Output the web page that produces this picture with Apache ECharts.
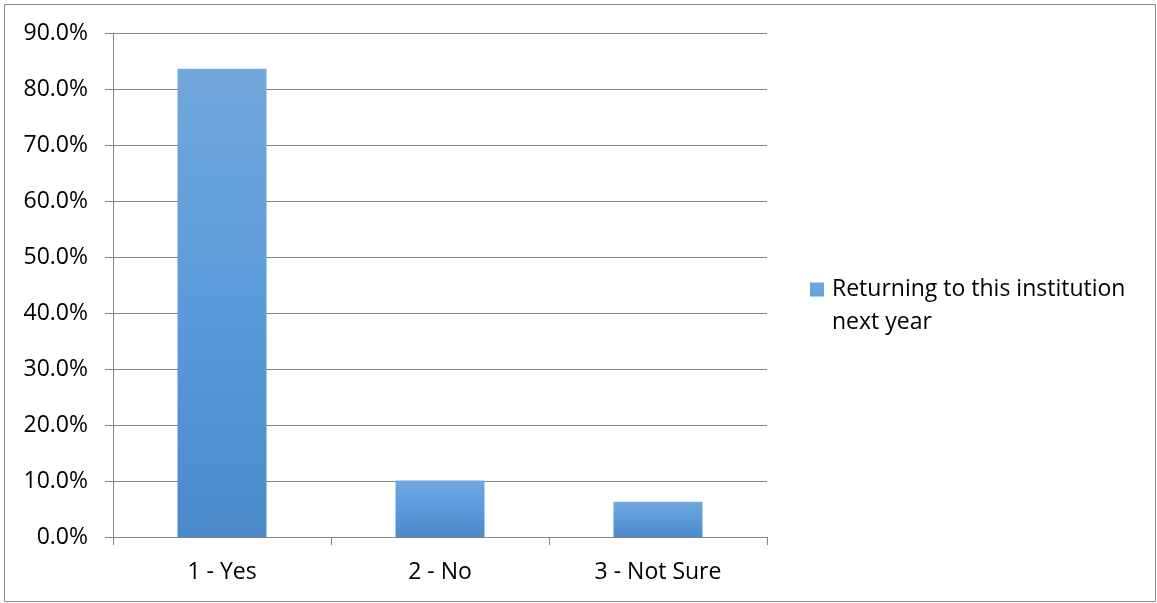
<!DOCTYPE html>
<html>
<head>
<meta charset="utf-8">
<script src="https://cdn.jsdelivr.net/npm/echarts@6/dist/echarts.min.js"></script>
<style>html,body{margin:0;padding:0;background:#fff}#c{width:1157px;height:603px}</style>
</head>
<body>
<div id="c"></div>
<script>
const categories = ['1 - Yes', '2 - No', '3 - Not Sure'];
const seriesName = 'Returning to this institution next year';
const values = [0.836, 0.101, 0.063];
const yTicks = [0, 0.1, 0.2, 0.3, 0.4, 0.5, 0.6, 0.7, 0.8, 0.9];

const chart = echarts.init(document.getElementById('c'));
const FONT = 'Open Sans';
const FS = 23;
const grad = new echarts.graphic.LinearGradient(0, 0, 0, 1, [
  {offset: 0, color: '#72A7DC'},
  {offset: 0.5, color: '#5B9BDC'},
  {offset: 1, color: '#4A89CA'}
]);
chart.setOption({
  animation: false,
  graphic: [{
    type: 'rect', shape: {x: 4.5, y: 4.5, width: 1151, height: 597},
    style: {fill: 'none', stroke: '#8c8c8c', lineWidth: 1}, z: -1
  }],
  grid: {left: 113, right: 390, top: 33, bottom: 66},
  legend: {
    left: 810, top: 273, padding: 0,
    itemWidth: 14, itemHeight: 47, itemGap: 5,
    data: [{name: seriesName, icon: 'path://M0,0L14,0L14,14L0,14Z M0,47L0,47'}],
    formatter: () => 'Returning to this institution\nnext year',
    textStyle: {fontFamily: FONT, fontSize: FS, color: '#000', lineHeight: 33, padding: [0, 0, 0, 3]}
  },
  xAxis: {
    type: 'category', data: categories,
    axisLine: {lineStyle: {color: '#868686', width: 1}},
    axisTick: {show: true, length: 8, lineStyle: {color: '#868686'}},
    axisLabel: {fontFamily: FONT, fontSize: FS, color: '#000', margin: 24}
  },
  yAxis: {
    type: 'value', min: 0, max: 0.9, interval: 0.1,
    axisLine: {show: true, lineStyle: {color: '#868686', width: 1}},
    axisTick: {show: true, length: 8, inside: false, lineStyle: {color: '#868686'}},
    splitLine: {lineStyle: {color: '#868686', width: 1}},
    axisLabel: {fontFamily: FONT, fontSize: FS, color: '#000', margin: 25,
      formatter: v => (v * 100).toFixed(1) + '%'}
  },
  series: [{
    name: seriesName, type: 'bar', data: values, barWidth: 89,
    itemStyle: {color: grad}
  }]
});
</script>
</body>
</html>
